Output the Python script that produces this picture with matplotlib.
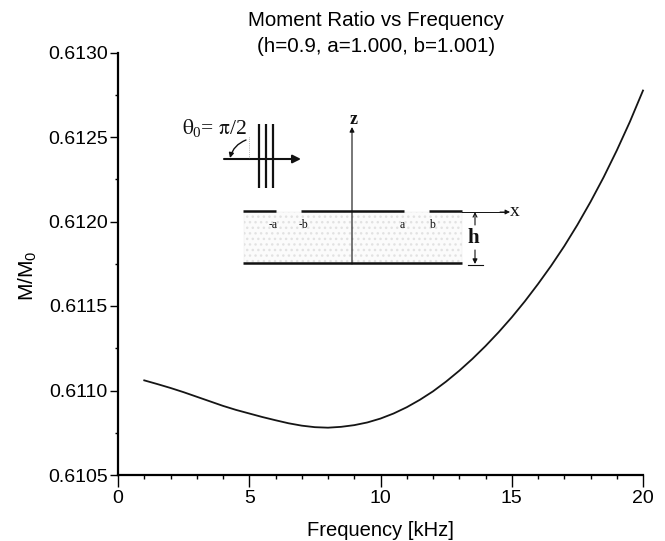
import matplotlib
matplotlib.use("Agg")
import matplotlib.pyplot as plt
from matplotlib.patches import Rectangle, FancyArrowPatch

plt.rcParams['font.family'] = ['Liberation Sans', 'DejaVu Sans']
plt.rcParams['mathtext.default'] = 'regular'

freq = [1, 1.5, 2, 2.5, 3, 3.5, 4, 4.5, 5, 5.5, 6, 6.5, 7, 7.5, 8, 8.5, 9, 9.5, 10, 10.5,
        11, 11.5, 12, 12.5, 13, 13.5, 14, 14.5, 15, 15.5, 16, 16.5, 17, 17.5, 18, 18.5,
        19, 19.5, 20]
ratio = [0.611060, 0.611038, 0.611015, 0.610990, 0.610963, 0.610936, 0.610909, 0.610885,
         0.610864, 0.610843, 0.610824, 0.610806, 0.610792, 0.610783, 0.610780, 0.610785,
         0.610795, 0.610811, 0.610834, 0.610864, 0.610901, 0.610945, 0.610995, 0.611053,
         0.611117, 0.611187, 0.611263, 0.611345, 0.611433, 0.611528, 0.611630, 0.611738,
         0.611854, 0.611980, 0.612116, 0.612262, 0.612420, 0.612590, 0.612775]
x_ticks = [0, 5, 10, 15, 20]
y_ticks = [0.6105, 0.6110, 0.6115, 0.6120, 0.6125, 0.6130]

W, H = 665, 541
fig = plt.figure(figsize=(W/100, H/100), dpi=100)
L, R, T, B = 118, 643, 52.5, 475
ax = fig.add_axes([L/W, 1-B/H, (R-L)/W, (B-T)/H])
ax.plot(freq, ratio, color='#151515', lw=1.3, clip_on=False)
ax.set_xlim(0, 20)
ax.set_ylim(0.6105, 0.6130)
ax.spines['top'].set_visible(False)
ax.spines['right'].set_visible(False)
ax.spines['left'].set_linewidth(1.6)
ax.spines['bottom'].set_linewidth(1.6)
ax.set_xticks(x_ticks)
ax.set_yticks(y_ticks)
ax.set_yticklabels([f'{v:.4f}' for v in y_ticks])
ax.set_xticks(range(0, 21), minor=True)
ax.set_yticks([0.61075, 0.61125, 0.61175, 0.61225, 0.61275], minor=True)
ax.tick_params(axis='x', which='major', length=8.5, width=1.0, labelsize=14, pad=2)
ax.tick_params(axis='y', which='major', length=5.5, width=1.0, labelsize=14, pad=2)
ax.tick_params(axis='x', which='minor', length=3, width=1.0)
ax.tick_params(axis='y', which='minor', length=2.5, width=1.0)
ax.set_xlabel('Frequency [kHz]', fontsize=14.5)
ax.set_ylabel('M/M$_0$', fontsize=15)
ax.xaxis.set_label_coords(0.5, (B-530)/(B-T), transform=ax.transAxes)
ax.xaxis.label.set_va('center')
ax.yaxis.set_label_coords((28-L)/(R-L), (B-276)/(B-T), transform=ax.transAxes)
ax.yaxis.label.set_va('center')

fig.text(376/W, 1-21/H, 'Moment Ratio vs Frequency', ha='center', va='center', fontsize=14.8)
fig.text(376/W, 1-47/H, '(h=0.9, a=1.000, b=1.001)', ha='center', va='center', fontsize=14.8)

# inset schematic, in pixel coordinates
d = fig.add_axes([0, 0, 1, 1], facecolor='none')
d.set_xlim(0, W)
d.set_ylim(H, 0)
d.axis('off')
d.add_patch(Rectangle((244, 212), 218, 51, facecolor='#fbfbfb', edgecolor='#e2e2e2', lw=0.2, hatch='...'))
k = '#111111'
for x0, x1 in [(243, 276), (301, 404), (429, 462)]:
    d.plot([x0, x1], [211, 211], color=k, lw=1.8, solid_capstyle='butt')
d.plot([243, 462], [263, 263], color=k, lw=1.8, solid_capstyle='butt')
d.plot([462, 505], [212, 212], color=k, lw=0.7)
d.add_patch(FancyArrowPatch((500, 212), (510, 212), arrowstyle='-|>', mutation_scale=7, color=k, lw=0.7, shrinkA=0, shrinkB=0))
d.add_patch(FancyArrowPatch((352, 264), (352, 127), arrowstyle='-|>', mutation_scale=7, color=k, lw=0.8, shrinkA=0, shrinkB=0))
d.add_patch(FancyArrowPatch((475, 225), (475, 212), arrowstyle='->', mutation_scale=7, color=k, lw=0.8, shrinkA=0, shrinkB=0))
d.add_patch(FancyArrowPatch((475, 250), (475, 264), arrowstyle='-|>', mutation_scale=7, color=k, lw=0.8, shrinkA=0, shrinkB=0))
d.plot([468, 483], [264.5, 264.5], color=k, lw=0.8)
d.add_patch(FancyArrowPatch((224, 159), (301, 159), arrowstyle='-|>', mutation_scale=12, color=k, lw=1.5, shrinkA=0, shrinkB=0))
for x in [259, 265.5, 272.5]:
    d.plot([x, x], [124, 188], color=k, lw=1.6, solid_capstyle='butt')
d.plot([249, 249], [137, 159], color='#777777', lw=0.5, ls=':')
d.add_patch(FancyArrowPatch((246, 140), (230, 158), connectionstyle='arc3,rad=0.25', arrowstyle='-|>',
                            mutation_scale=7, color=k, lw=1.0, shrinkA=0, shrinkB=0))
s = dict(family='Liberation Serif', color=k, ha='center', va='center')
d.text(214, 128, r'$\mathrm{\theta}_0$= $\mathrm{\pi}$/2', fontsize=15.5, math_fontfamily='stix', **s)
d.text(354, 119, 'z', fontsize=13, weight='bold', **s)
d.text(515, 212, 'x', fontsize=14, **s)
d.text(473, 238, 'h', fontsize=15, weight='bold', **s)
for x, t in [(273, '-a'), (303, '-b'), (402, 'a'), (432, 'b')]:
    d.text(x, 225, t, fontsize=8.5, **s)

fig.savefig('out.png', dpi=100)
